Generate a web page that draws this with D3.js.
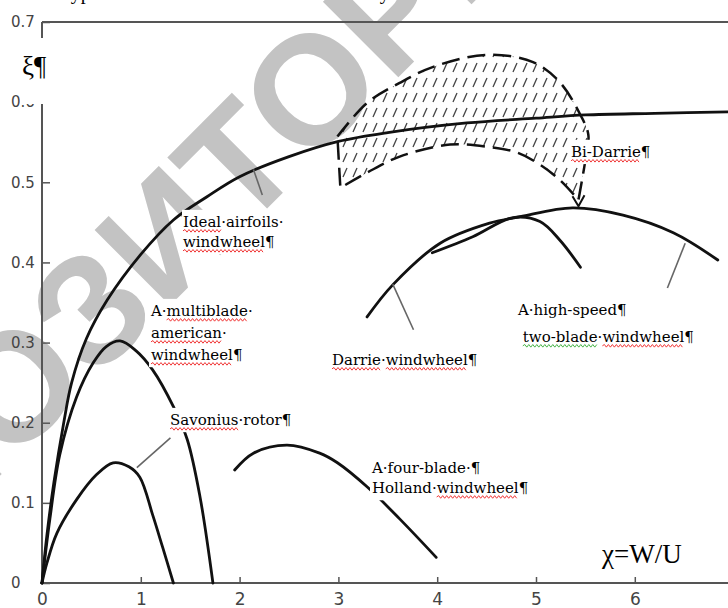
<!DOCTYPE html>
<html>
<head>
<meta charset="utf-8">
<script src="https://cdn.jsdelivr.net/npm/d3@7"></script>
<style>
body { margin: 0; background: #fff; }
svg { display: block; }
</style>
</head>
<body>
<div id="chart"></div>
<script>
// tick labels
const xTicks = [0, 1, 2, 3, 4, 5, 6];
const yTicks = [0, 0.1, 0.2, 0.3, 0.4, 0.5, 0.6, 0.7];

// curves: [tip speed ratio, power coefficient]
const ideal = [[0, 0], [0.05, 0.06], [0.12, 0.125], [0.22, 0.2], [0.3, 0.25], [0.45, 0.305], [0.66, 0.353],
	[1.0, 0.41], [1.33, 0.453], [1.67, 0.482], [2.0, 0.507], [2.5, 0.532], [3.0, 0.551], [3.5, 0.562],
	[4.3, 0.574], [5.0, 0.58], [5.5, 0.584], [6.2, 0.586], [7.0, 0.588]];
const multiblade = [[0, 0], [0.08, 0.08], [0.18, 0.16], [0.35, 0.232], [0.52, 0.275], [0.65, 0.295],
	[0.79, 0.302], [0.95, 0.29], [1.12, 0.266], [1.33, 0.22], [1.47, 0.179], [1.6, 0.107], [1.73, 0]];
const savonius = [[0, 0], [0.05, 0.025], [0.15, 0.062], [0.35, 0.104], [0.55, 0.135], [0.72, 0.15],
	[0.88, 0.145], [0.99, 0.132], [1.12, 0.085], [1.22, 0.045], [1.33, 0]];
const fourBlade = [[1.95, 0.141], [2.14, 0.162], [2.48, 0.172], [2.81, 0.162], [2.99, 0.15], [3.29, 0.12],
	[3.62, 0.08], [3.99, 0.032]];
const highSpeed = [[3.29, 0.332], [3.55, 0.372], [4.03, 0.424], [4.53, 0.449], [4.84, 0.457], [5.37, 0.468],
	[5.88, 0.459], [6.39, 0.437], [6.84, 0.403]];
const darrie = [[3.95, 0.412], [4.36, 0.432], [4.77, 0.456], [5.04, 0.451], [5.24, 0.428], [5.45, 0.394]];
// hatched Bi-Darrie zone: upper edge to the arrow tip, then lower edge back
const biDarrieTop = [[2.99, 0.557], [3.29, 0.599], [3.62, 0.624], [3.96, 0.644], [4.5, 0.659], [4.97, 0.65],
	[5.24, 0.625], [5.45, 0.584], [5.53, 0.559], [5.5, 0.528], [5.43, 0.478]];
const biDarrieBottom = [[5.43, 0.478], [5.24, 0.503], [5.04, 0.522], [4.81, 0.537], [4.53, 0.544],
	[4.13, 0.547], [3.62, 0.532], [3.29, 0.512], [3.02, 0.493]];
const arrowTip = [5.43, 0.47];
// thin leader lines from the labels
const leaders = [
	[[2.14, 0.516], [2.23, 0.484]],
	[[0.96, 0.144], [1.30, 0.181]],
	[[3.55, 0.373], [3.76, 0.316]],
	[[6.51, 0.424], [6.33, 0.368]]
];

// labels: anchor in chart units, lines made of [text, squiggle colour]
const labels = [
	{x: 1.427, y: 0.4444, gap: 20, lines: [[["Ideal", "r"], ["·airfoils·", ""]], [["windwheel", "r"], ["¶", ""]]]},
	{x: 1.103, y: 0.3333, gap: 22, lines: [[["A·", ""], ["multiblade", "r"], ["·", ""]], [["american", "r"], ["·", ""]], [["windwheel", "r"], ["¶", ""]]]},
	{x: 1.296, y: 0.1973, gap: 20, lines: [[["Savonius", "r"], ["·rotor¶", ""]]]},
	{x: 2.935, y: 0.2722, gap: 20, lines: [[["Darrie", "r"], ["·", ""], ["windwheel", "r"], ["¶", ""]]]},
	{x: 4.818, y: 0.3346, gap: 27, lines: [[["A·high-speed¶", ""]], [["\u00a0", ""], ["two-blade", "g"], ["·", ""], ["windwheel", "r"], ["¶", ""]]]},
	{x: 3.34, y: 0.1373, gap: 20, lines: [[["A·four-blade·¶", ""]], [["Holland·", ""], ["windwheel", "r"], ["¶", ""]]]},
	{x: 5.354, y: 0.5318, gap: 20, lines: [[["Bi-Darrie", "r"], ["¶", ""]]]}
];

const W = 728, H = 608;
const svg = d3.select("#chart").append("svg")
	.attr("width", W)
	.attr("height", H)
	.style("background", "#fff");

const x = d3.scaleLinear().domain([0, 7]).range([42, 733.6]);
const y = d3.scaleLinear().domain([0, 0.7]).range([583, 22]);

// watermark behind everything
svg.append("text")
	.attr("transform", "translate(165,235) rotate(-45)")
	.attr("text-anchor", "middle")
	.attr("dominant-baseline", "central")
	.style("font-family", "Liberation Sans")
	.style("font-weight", "bold")
	.style("font-size", "155px")
	.style("fill", "#c3c3c3")
	.text("РЕПОЗИТОРИЙ");

// caption, mostly above the top edge
svg.append("text")
	.attr("x", 60).attr("y", -1)
	.style("font-family", "Liberation Serif")
	.style("font-size", "20px")
	.text("Types of windwheels and their efficiency");

// hatch for Bi-Darrie
const defs = svg.append("defs");
defs.append("pattern")
	.attr("id", "hatch")
	.attr("patternUnits", "userSpaceOnUse")
	.attr("width", 10).attr("height", 15)
	.append("path")
	.attr("d", "M3,12 L7,3")
	.attr("stroke", "#444")
	.attr("stroke-width", 1.3);

// axes
const axisColor = "#555";
const xAxis = svg.append("g")
	.attr("transform", "translate(0," + y(0) + ")")
	.call(d3.axisBottom(x).tickValues(xTicks).tickSizeInner(-6).tickSizeOuter(0).tickFormat(d3.format("d")));
xAxis.select(".domain").remove();
xAxis.selectAll("line").attr("stroke", axisColor).attr("stroke-width", 1.5);
xAxis.selectAll("text")
	.attr("y", 22).attr("dy", null)
	.style("font-family", "DejaVu Sans")
	.style("font-size", "17px")
	.style("fill", "#444");
svg.append("line")
	.attr("x1", 40).attr("x2", W)
	.attr("y1", y(0)).attr("y2", y(0))
	.attr("stroke", axisColor).attr("stroke-width", 2);

const yAxis = svg.append("g")
	.attr("transform", "translate(" + x(0) + ",0)")
	.call(d3.axisLeft(y).tickValues(yTicks).tickSizeInner(-8).tickSizeOuter(0).tickFormat(d => d === 0 ? "0" : d3.format(".1f")(d)));
yAxis.select(".domain").remove();
yAxis.selectAll("line").attr("stroke", axisColor).attr("stroke-width", 1.5);
yAxis.selectAll("text")
	.attr("x", -31).attr("text-anchor", "start")
	.style("font-family", "DejaVu Sans")
	.style("font-size", "15px")
	.style("fill", "#444");
svg.append("line")
	.attr("x1", x(0)).attr("x2", x(0))
	.attr("y1", y(0)).attr("y2", y(0.7))
	.attr("stroke", axisColor).attr("stroke-width", 2);
svg.append("line")
	.attr("x1", x(0)).attr("x2", W)
	.attr("y1", y(0.7)).attr("y2", y(0.7))
	.attr("stroke", axisColor).attr("stroke-width", 2);

// Bi-Darrie zone
const open = d3.line().x(d => x(d[0])).y(d => y(d[1])).curve(d3.curveCatmullRom);
const zone = open(biDarrieTop) + "L" + open(biDarrieBottom).slice(1) + "Z";
svg.append("path")
	.attr("d", zone)
	.attr("fill", "url(#hatch)")
	.attr("stroke", "#111")
	.attr("stroke-width", 2.5)
	.attr("stroke-dasharray", "18,8");
const tx = x(arrowTip[0]), ty = y(arrowTip[1]);
svg.append("path")
	.attr("d", `M${tx - 6},${ty - 10} L${tx},${ty} L${tx + 6},${ty - 11}`)
	.attr("fill", "none")
	.attr("stroke", "#111")
	.attr("stroke-width", 2);

// curves
[ideal, multiblade, savonius, fourBlade, highSpeed, darrie].forEach(c => {
	svg.append("path")
		.datum(c)
		.attr("d", open)
		.attr("fill", "none")
		.attr("stroke", "#111")
		.attr("stroke-width", 2.8)
		.attr("stroke-linecap", "round");
});

// leaders
leaders.forEach(l => {
	svg.append("path")
		.datum(l)
		.attr("d", d3.line().x(d => x(d[0])).y(d => y(d[1])))
		.attr("stroke", "#666")
		.attr("stroke-width", 1.6);
});

// squiggly spell-check underline
const squiggle = function(g, x1, x2, yy, colour) {
	let d = "M" + x1 + "," + yy;
	let up = true;
	for (let xx = x1 + 2; xx <= x2; xx += 2) {
		d += " L" + xx + "," + (yy + (up ? -1.3 : 1.3));
		up = !up;
	}
	g.append("path").attr("d", d).attr("fill", "none")
		.attr("stroke", colour === "g" ? "#3a3" : "#e22").attr("stroke-width", 0.9);
};

labels.forEach(lb => {
	const g = svg.append("g");
	const x0 = x(lb.x), y0 = y(lb.y);
	lb.lines.forEach((segs, i) => {
		let cx = x0;
		const by = y0 + i * lb.gap;
		segs.forEach(s => {
			const t = g.append("text")
				.attr("x", cx).attr("y", by)
				.style("font-family", "DejaVu Serif")
				.style("font-size", "15px")
				.style("fill", "#000")
				.style("white-space", "pre")
				.text(s[0]);
			const w = t.node().getComputedTextLength();
			if (s[1]) squiggle(g, cx, cx + w, by + 4, s[1]);
			cx += w;
		});
	});
	const bb = g.node().getBBox();
	g.insert("rect", ":first-child")
		.attr("x", bb.x - 1).attr("y", bb.y - 3)
		.attr("width", bb.width + 3).attr("height", bb.height + 5)
		.attr("fill", "#fff");
});

// axis titles
svg.append("rect").attr("x", 20).attr("y", 38).attr("width", 40).attr("height", 66).attr("fill", "#fff");
svg.append("text")
	.attr("x", 22).attr("y", 75)
	.style("font-family", "Liberation Serif, serif")
	.style("font-size", "27px")
	.text("ξ¶");
svg.append("text")
	.attr("x", 602).attr("y", 563)
	.style("font-family", "Liberation Serif, serif")
	.style("font-size", "27px")
	.text("χ=W/U");
</script>
</body>
</html>
